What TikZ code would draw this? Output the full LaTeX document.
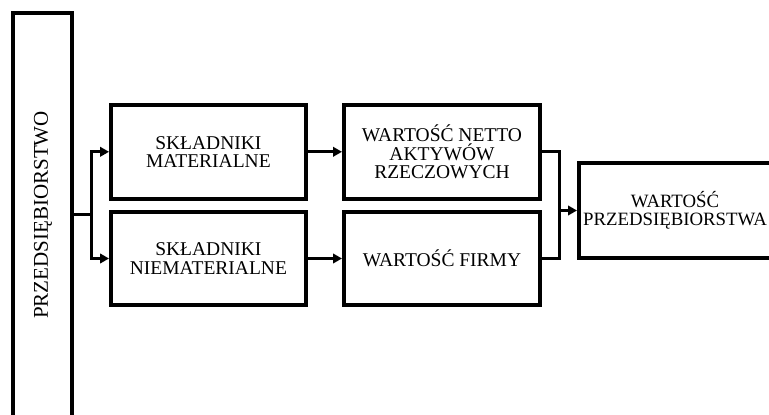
\documentclass[tikz,border=0pt]{standalone}
\usepackage{fontspec}
\setmainfont{Liberation Serif}
\usetikzlibrary{arrows.meta}
\begin{document}
\begin{tikzpicture}[x=1pt,y=-1pt,
  box/.style={draw, line width=4pt, align=center, inner sep=0pt,
    font=\fontsize{19.5}{18.3}\selectfont},
  conn/.style={line width=3pt},
  arr/.style={conn, -{Triangle[length=9pt,width=9.5pt]}}]
\useasboundingbox (0,0) rectangle (769,415);
\clip (0,0) rectangle (769,415);

% company column, running past the lower edge
\node[box, minimum width=59pt, minimum height=420pt] (firm) at (42,223.3) {};
\node[rotate=90, font=\fontsize{21}{21}\selectfont] (firmlabel) at (43,215) {PRZEDSIĘBIORSTWO};

% components
\node[box, minimum width=194.7pt, minimum height=93.5pt] (mat) at (208.4,151.8)
  {SKŁADNIKI\\MATERIALNE};
\node[box, minimum width=194.7pt, minimum height=93pt] (niemat) at (208.4,258.5)
  {SKŁADNIKI\\NIEMATERIALNE};

% values
\node[box, minimum width=196pt, minimum height=93.5pt] (netto) at (442,151.8)
  {WARTOŚĆ NETTO\\AKTYWÓW\\RZECZOWYCH};
\node[box, minimum width=196pt, minimum height=93pt] (firmy) at (442,258.5)
  {WARTOŚĆ FIRMY};

% total value
\node[box, minimum width=192pt, minimum height=94.4pt,
  font=\fontsize{18.8}{18.3}\selectfont] (total) at (675,210.5)
  {WARTOŚĆ\\PRZEDSIĘBIORSTWA};

% split from the company
\coordinate (jl) at (91,214);
\draw[conn] (firm.east |- jl) -- (jl);
\draw[arr] (jl) |- (mat.west);
\draw[arr] (jl) |- (niemat.west);

% component to value
\draw[arr] (mat.east) -- (netto.west);
\draw[arr] (niemat.east) -- (firmy.west);

% merge into the total
\coordinate (jr) at (559.5,210.5);
\draw[conn] (netto.east) -| (jr |- firmy.east) -- (firmy.east);
\draw[arr] (jr) -- (total.west);
\end{tikzpicture}
\end{document}
